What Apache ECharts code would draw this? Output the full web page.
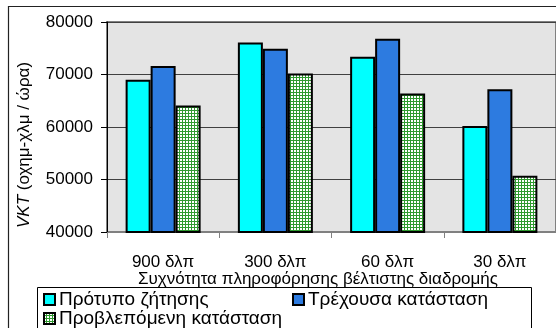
<!DOCTYPE html>
<html>
<head>
<meta charset="utf-8">
<script src="https://cdn.jsdelivr.net/npm/echarts@6/dist/echarts.min.js"></script>
<style>
html,body{margin:0;padding:0;background:#fff;}
#c{width:556px;height:328px;}
</style>
</head>
<body>
<div id="c"></div>
<script>
const categories = ['900 δλπ', '300 δλπ', '60 δλπ', '30 δλπ'];
const seriesNames = ['Πρότυπο ζήτησης', 'Τρέχουσα κατάσταση', 'Προβλεπόμενη κατάσταση'];
const demandModel = [69000, 76100, 73400, 60200];
const currentState = [71600, 74900, 76800, 67200];
const predictedState = [64100, 70200, 66400, 50700];
const yMin = 40000, yMax = 80000, yStep = 10000;
const xTitle = 'Συχνότητα πληροφόρησης βέλτιστης διαδρομής';
const yTitleItalic = 'VKT';
const yTitleRest = ' (οχημ-χλμ / ώρα)';

const FONT = '"Liberation Sans", Arial, sans-serif';

// green checkered pattern
const pc = document.createElement('canvas');
pc.width = 3; pc.height = 3;
const pctx = pc.getContext('2d');
pctx.fillStyle = '#ffffff';
pctx.fillRect(0, 0, 3, 3);
pctx.fillStyle = '#2f9a2f';
pctx.fillRect(0, 2, 3, 1);
pctx.fillRect(2, 0, 1, 3);

const chart = echarts.init(document.getElementById('c'), null, {renderer: 'canvas'});
const barBase = {
  type: 'bar',
  barWidth: 25,
  barGap: '0%',
  animation: false
};
function legendFor(name, left, top) {
  return {
    data: [name], left: left, top: top,
    icon: 'rect', itemWidth: 11, itemHeight: 11, itemGap: 0,
    padding: 0,
    textStyle: {color: '#000', fontFamily: FONT, fontSize: 19, padding: [0, 0, 0, -1]}
  };
}
chart.setOption({
  animation: false,
  grid: {
    left: 107, top: 22, width: 451, height: 210,
    show: true, backgroundColor: '#e4e4e4', borderColor: '#808080', borderWidth: 2
  },
  xAxis: {
    type: 'category',
    data: categories,
    axisLine: {show: true, lineStyle: {color: '#808080', width: 1}},
    axisTick: {show: true, length: 6, lineStyle: {color: '#808080'}},
    axisLabel: {color: '#000', fontFamily: FONT, fontSize: 17, margin: 22}
  },
  yAxis: {
    type: 'value',
    min: yMin, max: yMax, interval: yStep,
    axisLine: {show: true, lineStyle: {color: '#000', width: 1}},
    axisTick: {show: true, length: 6, lineStyle: {color: '#000'}},
    axisLabel: {color: '#000', fontFamily: FONT, fontSize: 17, margin: 14, formatter: function (v) { return String(v); }},
    splitLine: {show: true, lineStyle: {color: '#404040', width: 1}}
  },
  legend: [
    legendFor(seriesNames[0], 43, 290),
    legendFor(seriesNames[2], 43, 309),
    legendFor(seriesNames[1], 292, 290)
  ],
  graphic: [
    {type: 'rect', shape: {x: 8.5, y: 6.5, width: 700, height: 500}, style: {fill: 'none', stroke: '#222', lineWidth: 1.2}, silent: true},
    {type: 'rect', shape: {x: 37.5, y: 287.5, width: 494, height: 80}, style: {fill: 'none', stroke: '#000', lineWidth: 1}, silent: true},
    {type: 'text', x: 318, y: 279, style: {text: xTitle, fill: '#000', font: '17px ' + FONT, align: 'center', verticalAlign: 'middle'}, silent: true},
    {type: 'text', x: 24, y: 145, rotation: Math.PI / 2,
      style: {text: '{i|' + yTitleItalic + '}{n|' + yTitleRest + '}', align: 'center', verticalAlign: 'middle',
        rich: {i: {fontStyle: 'italic', fontFamily: FONT, fontSize: 17, fill: '#000'}, n: {fontFamily: FONT, fontSize: 17, fill: '#000'}}},
      silent: true}
  ],
  series: [
    Object.assign({}, barBase, {name: seriesNames[0], data: demandModel, itemStyle: {color: '#00ffff', borderColor: '#000', borderWidth: 2}}),
    Object.assign({}, barBase, {name: seriesNames[1], data: currentState, itemStyle: {color: '#2d7be0', borderColor: '#000', borderWidth: 2}}),
    Object.assign({}, barBase, {name: seriesNames[2], data: predictedState, itemStyle: {color: {image: pc, repeat: 'repeat'}, borderColor: '#000', borderWidth: 2}})
  ]
});
</script>
</body>
</html>
